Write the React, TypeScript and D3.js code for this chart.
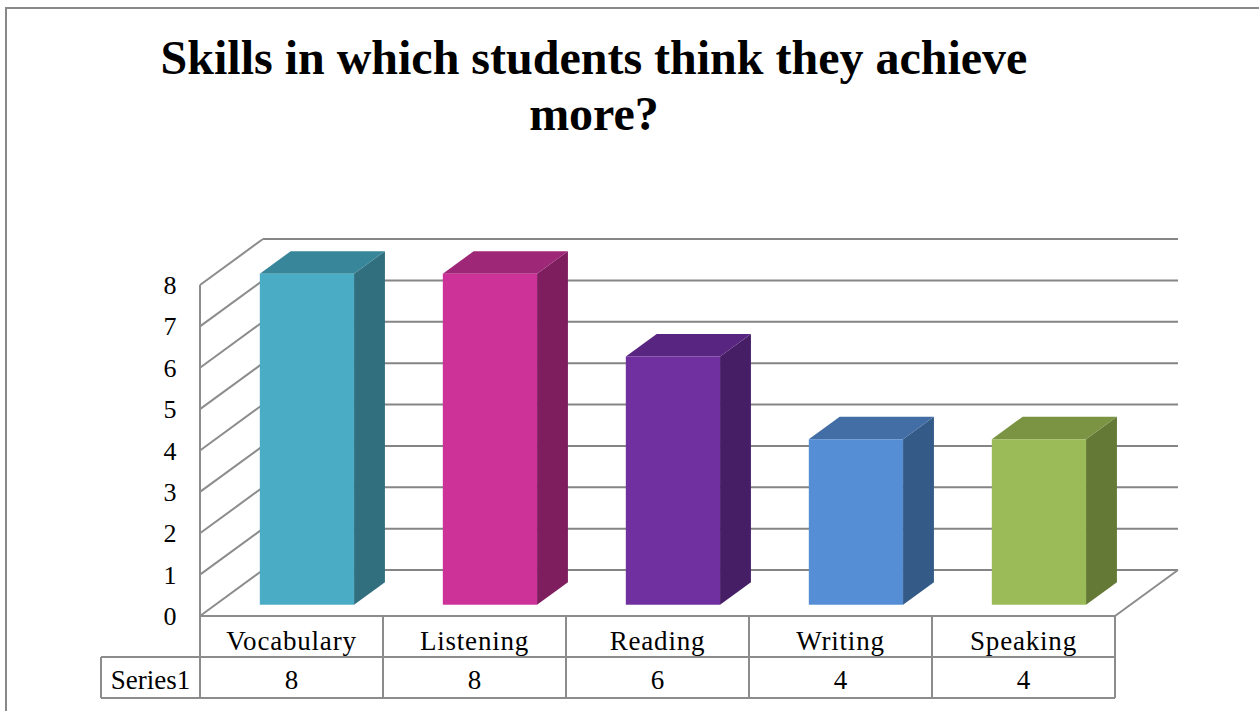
import React from "react";
import * as d3 from "d3";

const categories = ["Vocabulary", "Listening", "Reading", "Writing", "Speaking"];
const values = [8, 8, 6, 4, 4];
const seriesName = "Series1";
const yTicks = [0, 1, 2, 3, 4, 5, 6, 7, 8];
const frontColors = ["#4BACC6", "#CD3298", "#7030A0", "#558ED5", "#9BBB59"];
const sideColors = ["#316F7F", "#7F1E5F", "#461E65", "#345A88", "#647936"];
const topColors = ["#37869A", "#9E2778", "#582580", "#426EA5", "#7A9443"];
const titleLines = ["Skills in which students think they achieve", "more?"];

const W = 1259;
const H = 711;
const FONT = "'Liberation Serif', 'Times New Roman', serif";

export default function App() {
  const x = d3.scaleBand<string>().domain(categories).range([200, 1115]).padding(0);
  const y = d3.scaleLinear().domain([0, 8]).range([616, 285]);
  const DX = 63;
  const DY = -46;
  const d0 = 0.245;
  const d1 = 0.735;
  const barW = x.bandwidth() * 0.515;
  const grid = "#8C8C8C";
  const tableTop = y(0);
  const rowMid = 657;
  const tableBottom = 698;
  const tableLeft = 101;

  return (
    <svg width={W} height={H} style={{ position: "absolute", left: 0, top: 0, background: "#fff" }}>
      <rect x={6} y={8} width={W} height={H} fill="#fff" stroke="#888" strokeWidth={2} />
      {titleLines.map((t, i) => (
        <text key={i} x={594} y={74 + i * 56} textAnchor="middle" fontFamily={FONT} fontWeight="bold" fontSize={48} fill="#000">
          {t}
        </text>
      ))}
      {/* back wall gridlines */}
      {yTicks.map((v) => (
        <line key={"g" + v} x1={200 + DX} x2={1115 + DX} y1={y(v) + DY} y2={y(v) + DY} stroke="#858585" strokeWidth={2} />
      ))}
      {/* side wall diagonals */}
      {yTicks.map((v) => (
        <line key={"s" + v} x1={200} x2={200 + DX} y1={y(v)} y2={y(v) + DY} stroke={grid} strokeWidth={2} />
      ))}
      {/* floor right edge */}
      <line x1={1115} y1={y(0)} x2={1115 + DX} y2={y(0) + DY} stroke={grid} strokeWidth={2} />
      {/* front left axis line */}
      <line x1={200} x2={200} y1={y(8)} y2={tableBottom} stroke={grid} strokeWidth={2} />
      {/* y tick labels */}
      {yTicks.map((v) => (
        <text key={"t" + v} x={170} y={y(v) + 9} textAnchor="middle" fontFamily={FONT} fontSize={26} fill="#000">
          {v}
        </text>
      ))}
      {/* bars */}
      {categories.map((c, i) => {
        const cx = (x(c) as number) + x.bandwidth() / 2;
        const xl = cx - barW / 2 + d0 * DX;
        const xr = cx + barW / 2 + d0 * DX;
        const yb = y(0) + d0 * DY;
        const yt = y(values[i]) + d0 * DY;
        const ddx = (d1 - d0) * DX;
        const ddy = (d1 - d0) * DY;
        return (
          <g key={c}>
            <polygon points={`${xr},${yt} ${xr + ddx},${yt + ddy} ${xr + ddx},${yb + ddy} ${xr},${yb}`} fill={sideColors[i]} />
            <polygon points={`${xl},${yt} ${xl + ddx},${yt + ddy} ${xr + ddx},${yt + ddy} ${xr},${yt}`} fill={topColors[i]} />
            <rect x={xl} y={yt} width={xr - xl} height={yb - yt} fill={frontColors[i]} />
          </g>
        );
      })}
      {/* table */}
      <line x1={200} x2={1115} y1={tableTop} y2={tableTop} stroke={grid} strokeWidth={2} />
      <line x1={tableLeft} x2={1115} y1={rowMid} y2={rowMid} stroke={grid} strokeWidth={2} />
      <line x1={tableLeft} x2={1115} y1={tableBottom} y2={tableBottom} stroke={grid} strokeWidth={2} />
      <line x1={tableLeft} x2={tableLeft} y1={rowMid} y2={tableBottom} stroke={grid} strokeWidth={2} />
      {categories.map((c) => (
        <line key={"v" + c} x1={(x(c) as number) + x.bandwidth()} x2={(x(c) as number) + x.bandwidth()} y1={tableTop} y2={tableBottom} stroke={grid} strokeWidth={2} />
      ))}
      {categories.map((c, i) => {
        const cx = (x(c) as number) + x.bandwidth() / 2;
        return (
          <g key={"l" + c}>
            <text x={cx} y={650} textAnchor="middle" fontFamily={FONT} fontSize={27} letterSpacing={0.8} fill="#000">{c}</text>
            <text x={cx} y={689} textAnchor="middle" fontFamily={FONT} fontSize={27} fill="#000">{values[i]}</text>
          </g>
        );
      })}
      <text x={(tableLeft + 200) / 2} y={689} textAnchor="middle" fontFamily={FONT} fontSize={27} fill="#000">{seriesName}</text>
    </svg>
  );
}
